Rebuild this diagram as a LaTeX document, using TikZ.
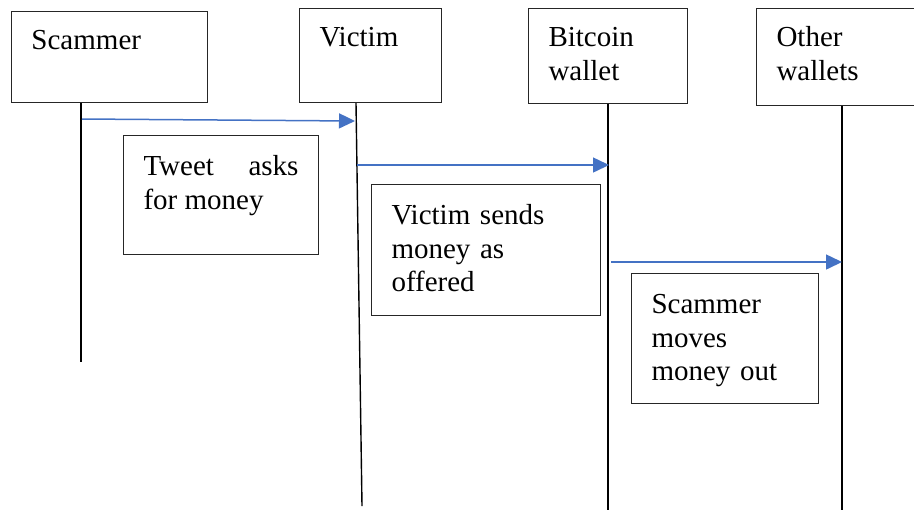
\documentclass[tikz,border=0pt]{standalone}
\usepackage{fontspec}
\setmainfont{Liberation Serif}
\usetikzlibrary{arrows.meta}
\definecolor{msgblue}{HTML}{4472C4}

\begin{document}
\begin{tikzpicture}[x=0.5pt, y=-0.5pt,
  actor/.style={shape=rectangle, draw=black!85, line width=0.5pt, anchor=north west, inner xsep=10pt, inner ysep=9pt, text height=10pt, align=left, font=\fontsize{14.5}{16.75}\selectfont},
  note/.style={actor, inner ysep=10pt},
  life/.style={draw=black, line width=0.7pt},
  msg/.style={draw=msgblue, line width=0.75pt, -{Triangle[length=8pt,width=7.5pt]}}]

\useasboundingbox (0,0) rectangle (914,510);
\clip (0,0) rectangle (914,510);

\node [actor, text width=78pt, text depth=17.5pt] (scammer) at (11,11) {Scammer};
\node [actor, text width=51pt, text depth=19pt] (victim) at (299,8) {Victim};
\node [actor, text width=59.5pt, text depth=19.5pt] (bitcoin) at (528,8) {Bitcoin\\wallet};
\node [actor, text width=72pt, text depth=20.5pt] (other) at (756,8) {Other\\wallets};

\coordinate (s0) at (81,362);
\coordinate (v0) at (362,506);
\coordinate (b0) at (608,510);
\coordinate (o0) at (842,510);
\draw [life] (scammer.south -| s0) -- (s0);
\draw [life] ([xshift=-3pt]victim.south -| v0) -- (v0);
\draw [life] (bitcoin.south -| b0) -- (b0);
\draw [life] (other.south -| o0) -- (o0);

\coordinate (s1) at (82,119);
\coordinate (v1) at (355,121);
\coordinate (v2) at (357,165);
\coordinate (b2) at (609,165);
\coordinate (b3) at (611,262);
\coordinate (o3) at (842,262);
\draw [msg] (s1) -- (v1);
\draw [msg] (v2) -- (b2);
\draw [msg] (b3) -- (o3);

\node [note, align=justify, text width=77.5pt, text depth=29.5pt] (tweet) at (123,135) {Tweet asks for money};
\node [note, text width=94.5pt, text depth=35.5pt] (sends) at (371,184) {Victim sends\\money as\\offered};
\node [note, text width=73.5pt, text depth=35pt] (moves) at (631,273) {Scammer\\moves\\money out};
\end{tikzpicture}
\end{document}
